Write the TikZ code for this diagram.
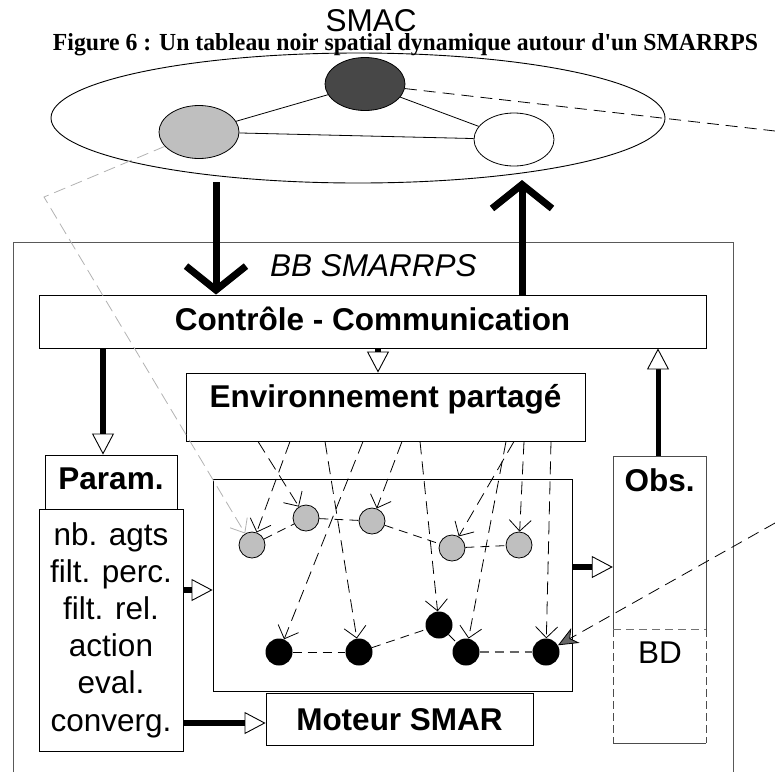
\documentclass[tikz,border=0pt]{standalone}
\usepackage{graphicx}
\usepackage{fontspec}
\setmainfont{Liberation Sans}
\newfontfamily\titlefont{Liberation Serif}
\usetikzlibrary{arrows.meta,shapes.geometric}
\begin{document}
\begin{tikzpicture}[x=1pt,y=-1pt,
  txt/.style={font=\fontsize{31.5}{37.2}\selectfont},
  btxt/.style={font=\fontsize{31.5}{37.2}\selectfont\bfseries},
  itxt/.style={font=\fontsize{31.5}{37.2}\selectfont\itshape},
  box/.style={draw, line width=0.9pt, rectangle, inner sep=0pt},
  bigarrow/.style={line width=7pt, -{Straight Barb[length=24pt,width=60pt]}},
  fatopen/.style={line width=6pt, -{Triangle[length=21pt,width=22pt,fill=white,line width=0.9pt]}},
  envarr/.style={line width=0.8pt, dash pattern=on 13pt off 7pt, -{Straight Barb[length=11pt,width=22pt,line width=0.8pt]}},
  link/.style={line width=0.8pt, dash pattern=on 9pt off 6pt},
  gnode/.style={circle, draw, line width=0.8pt, fill=black!25, minimum size=26pt, inner sep=0pt},
  bnode/.style={circle, fill=black, minimum size=27pt, inner sep=0pt},
  smacnode/.style={ellipse, draw, line width=0.8pt, minimum width=80pt, minimum height=53pt, inner sep=0pt},
]
\useasboundingbox (0,0) rectangle (775,772);

% SMAC
\node[ellipse, draw, line width=0.9pt, minimum width=614pt, minimum height=130pt, inner sep=0pt] (smac) at (358,118) {};
\node[smacnode, fill=black!25] (ga) at (199,132) {};
\node[smacnode, fill=black!72] (da) at (365,84) {};
\node[smacnode, fill=white] (wa) at (514,139.5) {};
\draw[line width=0.8pt] (ga) -- (da);
\draw[line width=0.8pt] (ga) -- (wa);
\draw[line width=0.8pt] (da) -- (wa);
\node[txt, anchor=base, inner sep=0pt] (smact) at (371,31) {SMAC};
\node[anchor=base, inner sep=0pt] (title) at (405.5,50) {\resizebox{705pt}{17pt}{\titlefont\bfseries\fontsize{24}{28}\selectfont Figure 6 : Un tableau noir spatial dynamique autour d\textquotesingle un SMARRPS}};

% outer box
\draw[line width=0.9pt, black!65] (13,772) -- (13,242) -- (733,242) -- (733,772);
\node[itxt, anchor=base, inner sep=0pt] (bbt) at (373.5,276) {BB SMARRPS};

% boxes
\node[box, btxt, minimum width=667pt, text height=35pt, text depth=18pt] (ctrl) at (372.5,321.5) {Contrôle - Communication};
\node[box, btxt, minimum width=399pt, text height=34pt, text depth=34pt] (env) at (385.5,407) {Environnement partagé};
\node[box, btxt, minimum width=132pt, text height=34pt, text depth=20pt] (param) at (111,482) {Param.};
\node[box, txt, minimum width=144pt, minimum height=242pt, align=center] (list) at (111,630) {nb. agts\\filt. perc.\\filt. rel.\\action\\eval.\\converg.};
\node[box, minimum width=359pt, minimum height=212pt] (grid) at (392.5,585) {};
\node[box, btxt, minimum width=267pt, text height=37pt, text depth=15pt] (moteur) at (399.5,719) {Moteur SMAR};
\node[minimum width=93pt, minimum height=287pt, inner sep=0pt] (obs) at (659.5,599.5) {};
\draw[line width=0.9pt, black!70] (613,629) -- (613,456) -- (706,456) -- (706,629);
\draw[line width=0.9pt, black!70, dash pattern=on 8pt off 4pt] (613,629) -- (613,743) (706,629) -- (706,743);
\draw[line width=0.9pt, black!70] (613,743) -- (706,743);
\draw[line width=0.9pt, black!55, dash pattern=on 8pt off 5pt] (613,629) -- (706,629);
\node[btxt, anchor=base, inner sep=0pt] (obst) at (659.5,491) {Obs.};
\node[txt, anchor=base, inner sep=0pt] (bdt) at (660,663) {BD};

% agents
\node[gnode] (G1) at (252,545) {};
\node[gnode] (G2) at (306,518) {};
\node[gnode] (G3) at (372,521) {};
\node[gnode] (G4) at (452,548) {};
\node[gnode] (G5) at (519,545) {};
\node[bnode] (B1) at (279,652) {};
\node[bnode] (B2) at (359,652) {};
\node[bnode] (B3) at (439,625) {};
\node[bnode] (B4) at (466,652) {};
\node[bnode] (B5) at (546,652) {};
\draw[link] (G1) -- (G2);
\draw[link] (G2) -- (G3);
\draw[link] (G3) -- (G4);
\draw[link] (G4) -- (G5);
\draw[link] (B1) -- (B2);
\draw[link] (B2) -- (B3);
\draw[link] (B3) -- (B4);
\draw[link, black!60, line width=1.3pt] (B4) -- (B5);

% env arrows
\coordinate (e1) at (258,0);
\coordinate (e2) at (290,0);
\coordinate (e3) at (325,0);
\coordinate (e4) at (363,0);
\coordinate (e5) at (402,0);
\coordinate (e6) at (420,0);
\coordinate (e7) at (514,0);
\coordinate (e8) at (506,0);
\coordinate (e9) at (524,0);
\coordinate (e10) at (551,0);
\draw[envarr] (env.south -| e1) -- (G2);
\draw[envarr] (env.south -| e2) -- (G1);
\draw[envarr] (env.south -| e3) -- (B2);
\draw[envarr] (env.south -| e4) -- (B1);
\draw[envarr] (env.south -| e5) -- (G3);
\draw[envarr] (env.south -| e6) -- (B3);
\draw[envarr] (env.south -| e7) -- (G4);
\draw[envarr] (env.south -| e8) -- (B4);
\draw[envarr] (env.south -| e9) -- (G5);
\draw[envarr] (env.south -| e10) -- (B5);

% big arrows
\coordinate (dtop) at (216,182);
\coordinate (utop) at (522,180);
\draw[bigarrow] (dtop) -- (ctrl.north -| dtop);
\draw[bigarrow] (ctrl.north -| utop) -- (utop);

% open-head arrows
\coordinate (xa) at (103,0);
\coordinate (xb) at (378,0);
\coordinate (xc) at (658,0);
\coordinate (ya) at (0,590);
\coordinate (yb) at (0,723);
\coordinate (yc) at (0,567);
\draw[fatopen] (ctrl.south -| xa) -- (param.north -| xa);
\draw[fatopen] (ctrl.south -| xb) -- (env.north -| xb);
\draw[fatopen, line width=5pt] (obs.north -| xc) -- (ctrl.south -| xc);
\draw[fatopen] (list.east |- ya) -- (grid.west |- ya);
\draw[fatopen] (list.east |- yb) -- (moteur.west |- yb);
\draw[fatopen] (grid.east |- yc) -- (obs.west |- yc);

% links to outside
\coordinate (exA) at (775,131);
\coordinate (exB) at (775,523);
\coordinate (gbend) at (44,197);
\draw[line width=0.8pt, dash pattern=on 12pt off 7pt] (da) -- (exA);
\draw[line width=0.8pt, dash pattern=on 12pt off 7pt, -{Stealth[length=20pt,width=17pt,inset=6pt,fill=black!60,line width=0.8pt]}] (exB) -- (B5);
\draw[line width=0.8pt, black!30, dash pattern=on 12pt off 6pt, -{Straight Barb[length=12pt,width=20pt,line width=0.8pt]}] (ga) -- (gbend) -- (G1);
\end{tikzpicture}
\end{document}
